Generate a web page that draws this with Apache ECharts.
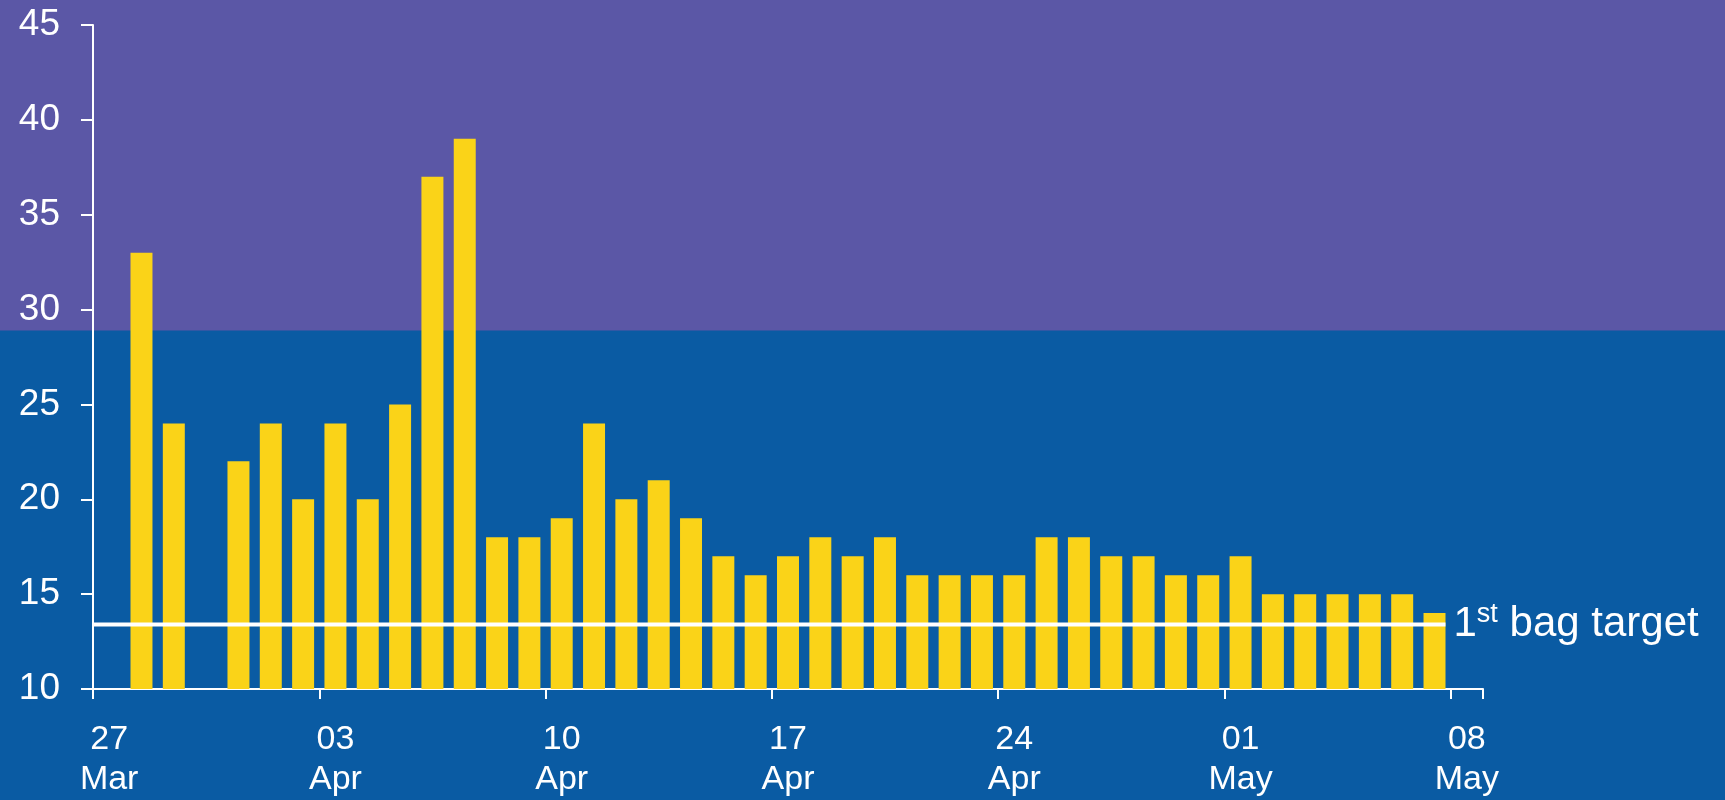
<!DOCTYPE html>
<html>
<head>
<meta charset="utf-8">
<script src="https://cdn.jsdelivr.net/npm/echarts@6/dist/echarts.min.js"></script>
<style>
  html, body { margin: 0; padding: 0; background: #0A5BA3; overflow: hidden; }
  #chart { width: 1725px; height: 800px; }
</style>
</head>
<body>
<div id="chart"></div>
<script>
// Daily dates, 27 Mar to 08 May
const days = [
  '27 Mar', '28 Mar', '29 Mar', '30 Mar', '31 Mar',
  '01 Apr', '02 Apr', '03 Apr', '04 Apr', '05 Apr', '06 Apr', '07 Apr',
  '08 Apr', '09 Apr', '10 Apr', '11 Apr', '12 Apr', '13 Apr', '14 Apr',
  '15 Apr', '16 Apr', '17 Apr', '18 Apr', '19 Apr', '20 Apr', '21 Apr',
  '22 Apr', '23 Apr', '24 Apr', '25 Apr', '26 Apr', '27 Apr', '28 Apr',
  '29 Apr', '30 Apr', '01 May', '02 May', '03 May', '04 May', '05 May',
  '06 May', '07 May', '08 May'
];

// Daily counts (null = no value recorded)
const counts = [
  null, 33, 24, null, 22,
  24, 20, 24, 20, 25, 37, 39,
  18, 18, 19, 24, 20, 21, 19,
  17, 16, 17, 18, 17, 18, 16,
  16, 16, 16, 18, 18, 17, 17,
  16, 16, 17, 15, 15, 15, 15,
  15, 14, null
];

// Y axis scale
const yMin = 10, yMax = 45, yStep = 5;

// Target level and the level where the upper band starts
const bagTarget = 13.4;
const bandLevel = 28.9;

const BLUE = '#0A5BA3';
const PURPLE = '#5B57A6';
const YELLOW = '#FAD318';
const WHITE = '#FFFFFF';
const FONT = 'Liberation Sans, Arial, sans-serif';

const barFrac = 0.68;
let lastIdx = counts.length - 1;
while (counts[lastIdx] == null) lastIdx--;
const targetEnd = lastIdx + 0.5 + barFrac / 2;

const chart = echarts.init(document.getElementById('chart'));

chart.setOption({
  backgroundColor: BLUE,
  animation: false,
  textStyle: { fontFamily: FONT },
  grid: { left: 93, right: 242, top: 25, bottom: 111 },
  xAxis: [
    {
      type: 'category',
      data: days,
      boundaryGap: true,
      axisLine: { lineStyle: { color: WHITE, width: 2 } },
      axisTick: { show: true, interval: 6, length: 10, lineStyle: { color: WHITE, width: 2 } },
      axisLabel: {
        interval: 6,
        color: WHITE,
        fontSize: 34,
        lineHeight: 40,
        margin: 31,
        fontFamily: FONT,
        formatter: v => v.replace(' ', '\n')
      },
      splitLine: { show: false }
    },
    {
      type: 'value',
      min: 0,
      max: days.length,
      show: false
    }
  ],
  yAxis: {
    type: 'value',
    min: yMin,
    max: yMax,
    interval: yStep,
    axisLine: { show: true, lineStyle: { color: WHITE, width: 2 } },
    axisTick: { show: true, length: 12, lineStyle: { color: WHITE, width: 2 } },
    axisLabel: { color: WHITE, fontSize: 37, margin: 33, fontFamily: FONT },
    splitLine: { show: false }
  },
  series: [
    {
      type: 'bar',
      data: counts,
      barWidth: (barFrac * 100) + '%',
      itemStyle: { color: YELLOW },
      z: 2
    },
    {
      type: 'line',
      xAxisIndex: 1,
      data: [[0, bagTarget], [targetEnd, bagTarget]],
      symbol: 'none',
      lineStyle: { color: WHITE, width: 4 },
      z: 5,
      endLabel: {
        show: true,
        distance: 8,
        color: WHITE,
        formatter: '{n|1}{sup|st}{n| bag target}',
        rich: {
          n: { fontSize: 42, color: WHITE, fontFamily: FONT },
          sup: { fontSize: 27, color: WHITE, fontFamily: FONT, padding: [0, 0, 20, 0] }
        }
      }
    }
  ]
});

// Upper band behind the plot, from the top of the page down to bandLevel
const bandY = chart.convertToPixel({ yAxisIndex: 0 }, bandLevel);
chart.setOption({
  graphic: [{
    type: 'rect',
    z: -10,
    silent: true,
    shape: { x: 0, y: 0, width: 1725, height: bandY },
    style: { fill: PURPLE }
  }]
});
</script>
</body>
</html>
